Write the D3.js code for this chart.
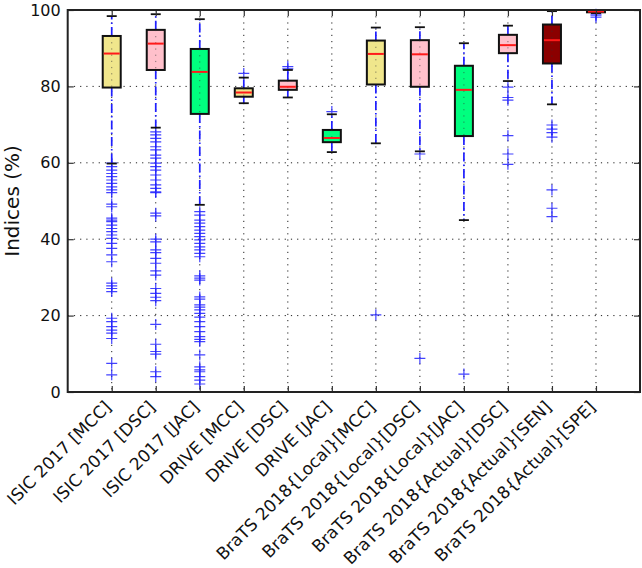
<!DOCTYPE html>
<html>
<head>
<meta charset="utf-8">
<script src="https://cdn.jsdelivr.net/npm/d3@7"></script>
<style>
  html, body { margin: 0; padding: 0; background: #fff; }
  svg { display: block; }
</style>
</head>
<body>
<svg id="chart" width="642" height="568"></svg>
<script>
const categories = [
  "ISIC 2017 [MCC]", "ISIC 2017 [DSC]", "ISIC 2017 [JAC]",
  "DRIVE [MCC]", "DRIVE [DSC]", "DRIVE [JAC]",
  "BraTS 2018{Local}[MCC]", "BraTS 2018{Local}[DSC]", "BraTS 2018{Local}[JAC]",
  "BraTS 2018{Actual}[DSC]", "BraTS 2018{Actual}[SEN]", "BraTS 2018{Actual}[SPE]"
];
const whiskerLow  = [59.8, 69.2, 49.0, 75.6, 77.1, 62.8, 65.1, 63.0, 45.0, 81.4, 75.3, 99.2];
const q1          = [79.7, 84.3, 72.8, 77.3, 79.1, 65.4, 80.5, 79.9, 67.0, 88.7, 86.0, 99.4];
const medians     = [88.6, 91.2, 83.8, 78.4, 79.9, 66.5, 88.5, 88.4, 79.1, 90.8, 92.1, 99.6];
const q3          = [93.2, 94.8, 89.8, 79.5, 81.5, 68.6, 92.0, 92.1, 85.4, 93.5, 96.2, 99.8];
const whiskerHigh = [98.4, 98.9, 97.6, 82.3, 84.3, 72.7, 95.4, 95.5, 91.3, 95.9, 99.7, 100.0];
const fliers = [
  [59.9, 59.0, 58.1, 57.2, 56.4, 55.5, 54.6, 53.7, 52.9, 52.2, 49.2, 48.5, 45.5, 45.0, 44.6, 43.7,
   42.8, 42.0, 41.1, 40.2, 38.9, 37.6, 35.9, 34.1, 28.5, 27.8, 27.1, 26.3, 19.3, 18.4, 17.1, 16.2,
   15.4, 14.0, 7.5, 4.5],
  [68.1, 67.3, 66.4, 65.5, 64.2, 63.4, 62.0, 61.2, 59.9, 59.0, 58.1, 56.8, 55.5, 54.2, 53.3, 52.4,
   52.2, 46.8, 46.1, 40.0, 39.3, 37.2, 36.5, 35.0, 33.7, 31.7, 30.6, 27.1, 25.8, 24.8, 23.9, 17.7,
   12.5, 10.6, 9.9, 5.3, 4.0],
  [47.2, 46.3, 45.0, 44.2, 43.3, 42.4, 41.5, 40.7, 39.8, 38.9, 38.0, 37.2, 36.3, 35.4, 30.4, 29.8,
   29.3, 24.9, 24.3, 22.8, 22.2, 21.5, 20.6, 19.6, 18.4, 17.1, 15.8, 14.5, 13.8, 13.2, 9.7, 6.6,
   5.8, 5.3, 4.0, 3.1, 2.1],
  [83.4],
  [85.2, 84.6],
  [73.4],
  [20.2],
  [62.3, 8.8],
  [4.7],
  [79.8, 77.1, 76.4, 67.1, 62.3, 59.6],
  [69.9, 68.8, 67.9, 66.7, 52.9, 48.1, 45.9],
  [98.9, 98.5, 98.1]
];
const yTicks = [0, 20, 40, 60, 80, 100];
const yLabel = "Indices (%)";
const boxColors = ["#f0e68c", "#ffc0cb", "#00ff7f", "#f0e68c", "#ffc0cb", "#00ff7f",
                   "#f0e68c", "#ffc0cb", "#00ff7f", "#ffc0cb", "#8b0000", "#8b0000"];

const svg = d3.select("#chart");
const L = 67.7, R = 640, T = 10, B = 392;
const x = d3.scalePoint().domain(categories).range([L, R]).padding(1);
const y = d3.scaleLinear().domain([0, 100]).range([B, T]);

const boxW = 18, capW = 10;
const font = "'DejaVu Sans', sans-serif";

// grid
const grid = svg.append("g");
grid.selectAll(".gy").data(yTicks.filter(d => d > 0 && d < 100)).join("line")
  .attr("x1", L).attr("x2", R).attr("y1", d => y(d)).attr("y2", d => y(d))
  .attr("stroke", "#222").attr("stroke-width", 1).attr("stroke-dasharray", "1.2,5");
grid.selectAll(".gx").data(categories).join("line")
  .attr("x1", d => x(d)).attr("x2", d => x(d)).attr("y1", T).attr("y2", B)
  .attr("stroke", "#222").attr("stroke-width", 1).attr("stroke-dasharray", "1.2,5");

const data = categories.map((c, i) => ({
  c, lo: whiskerLow[i], q1: q1[i], med: medians[i], q3: q3[i], hi: whiskerHigh[i],
  fl: fliers[i], color: boxColors[i]
}));

const g = svg.append("g");
const items = g.selectAll(".box").data(data).join("g");

// whiskers
const dash = "9,3,1.5,3";
items.append("line")
  .attr("x1", d => x(d.c)).attr("x2", d => x(d.c))
  .attr("y1", d => y(d.q3)).attr("y2", d => y(d.hi))
  .attr("stroke", "#1f1fff").attr("stroke-width", 1.7).attr("stroke-dasharray", dash);
items.append("line")
  .attr("x1", d => x(d.c)).attr("x2", d => x(d.c))
  .attr("y1", d => y(d.q1)).attr("y2", d => y(d.lo))
  .attr("stroke", "#1f1fff").attr("stroke-width", 1.7).attr("stroke-dasharray", dash);

// fliers
items.each(function(d) {
  const sel = d3.select(this);
  const cx = x(d.c);
  d.fl.forEach(v => {
    const cy = y(v);
    sel.append("path")
      .attr("d", `M${cx - 5.5},${cy}H${cx + 5.5}M${cx},${cy - 5.5}V${cy + 5.5}`)
      .attr("stroke", "#2222ff").attr("stroke-width", 1.2).attr("stroke-opacity", 0.85)
      .attr("fill", "none");
  });
});

// caps
items.append("line")
  .attr("x1", d => x(d.c) - capW / 2).attr("x2", d => x(d.c) + capW / 2)
  .attr("y1", d => y(d.hi)).attr("y2", d => y(d.hi))
  .attr("stroke", "#111").attr("stroke-width", 1.8);
items.append("line")
  .attr("x1", d => x(d.c) - capW / 2).attr("x2", d => x(d.c) + capW / 2)
  .attr("y1", d => y(d.lo)).attr("y2", d => y(d.lo))
  .attr("stroke", "#111").attr("stroke-width", 1.8);

// boxes
items.append("rect")
  .attr("x", d => x(d.c) - boxW / 2).attr("width", boxW)
  .attr("y", d => y(d.q3)).attr("height", d => y(d.q1) - y(d.q3))
  .attr("fill", d => d.color).attr("stroke", "#111").attr("stroke-width", 2);

// vertical dotted grid visible through box
items.append("line")
  .attr("x1", d => x(d.c)).attr("x2", d => x(d.c))
  .attr("y1", d => y(d.q3)).attr("y2", d => y(d.q1))
  .attr("stroke", "#333").attr("stroke-width", 1).attr("stroke-dasharray", "1.2,5").attr("stroke-opacity", 0.6);

// medians
items.append("line")
  .attr("x1", d => x(d.c) - boxW / 2 + 1).attr("x2", d => x(d.c) + boxW / 2 - 1)
  .attr("y1", d => y(d.med)).attr("y2", d => y(d.med))
  .attr("stroke", "#ff1a1a").attr("stroke-width", 2);

// axes
const axL = d3.axisLeft(y).tickValues(yTicks).tickSizeInner(-6).tickSizeOuter(0).tickPadding(7);
const axR = d3.axisRight(y).tickValues(yTicks).tickSizeInner(-6).tickSizeOuter(0).tickFormat("");
const axB = d3.axisBottom(x).tickSizeInner(-6).tickSizeOuter(0).tickFormat("");
const axT = d3.axisTop(x).tickSizeInner(-6).tickSizeOuter(0).tickFormat("");

function styleAxis(sel) {
  sel.select(".domain").remove();
  sel.selectAll(".tick line").attr("stroke", "#333").attr("stroke-width", 1.2);
  sel.selectAll("text").attr("font-family", font).attr("font-size", 16).attr("fill", "#111");
}
svg.append("g").attr("transform", `translate(${L},0)`).call(axL).call(styleAxis);
svg.append("g").attr("transform", `translate(${R},0)`).call(axR).call(styleAxis);
svg.append("g").attr("transform", `translate(0,${B})`).call(axB).call(styleAxis);
svg.append("g").attr("transform", `translate(0,${T})`).call(axT).call(styleAxis);

// frame
svg.append("rect").attr("x", L).attr("y", T).attr("width", R - L).attr("height", B - T)
  .attr("fill", "none").attr("stroke", "#222").attr("stroke-width", 2);

// x labels
svg.append("g").selectAll("text").data(categories).join("text")
  .attr("transform", d => `translate(${x(d) + 0.5},${B + 16}) rotate(-45)`)
  .attr("text-anchor", "end")
  .attr("font-family", font).attr("font-size", 17).attr("fill", "#111")
  .text(d => d);

// y label
svg.append("text")
  .attr("transform", `translate(18.5,${(T + B) / 2}) rotate(-90)`)
  .attr("text-anchor", "middle")
  .attr("font-family", font).attr("font-size", 20).attr("fill", "#111")
  .text(yLabel);
</script>
</body>
</html>
